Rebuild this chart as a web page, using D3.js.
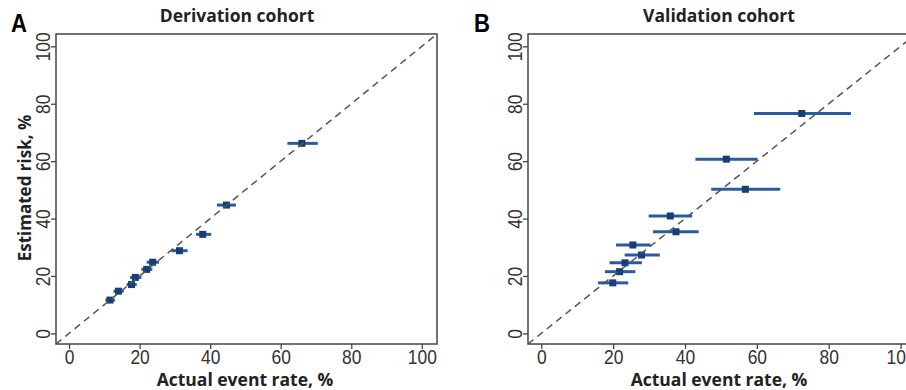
<!DOCTYPE html>
<html>
<head>
<meta charset="utf-8">
<script src="https://cdn.jsdelivr.net/npm/d3@7"></script>
<style>
  body { margin: 0; background: #fff; }
  svg { display: block; }
</style>
</head>
<body>
<div id="chart-container"></div>
<script>
// derivation cohort: actual event rate (x), CI, estimated risk (y)
const derivActual = [11.6, 14.0, 17.7, 18.8, 22.0, 23.7, 31.3, 37.9, 44.6, 66.0];
const derivLow    = [10.3, 12.6, 16.3, 17.3, 20.5, 22.0, 29.0, 36.0, 41.9, 61.9];
const derivHigh   = [13.0, 15.5, 19.2, 20.5, 23.6, 25.5, 33.6, 40.3, 47.3, 70.5];
const derivEst    = [11.6, 14.7, 17.0, 19.5, 22.3, 24.8, 28.8, 34.5, 44.7, 66.2];

// validation cohort
const validActual = [19.9, 21.8, 23.3, 27.9, 25.5, 37.5, 35.9, 56.8, 51.5, 72.5];
const validLow    = [15.8, 17.7, 19.0, 23.2, 20.8, 31.1, 29.9, 47.3, 42.9, 59.2];
const validHigh   = [24.2, 26.2, 28.0, 33.0, 30.4, 43.8, 42.0, 66.5, 60.2, 86.2];
const validEst    = [17.6, 21.5, 24.6, 27.3, 30.8, 35.4, 40.9, 50.2, 60.7, 76.6];

const tickValues = [0, 20, 40, 60, 80, 100];
const axisDomain = [-3.7, 104.3];

const svg = d3.select("#chart-container")
  .append("svg")
  .attr("width", 906)
  .attr("height", 390);

const tickFont = "Liberation Sans, Arial, sans-serif";

function drawPanel(cfg) {
  const data = cfg.actual.map((a, i) => ({ x: a, lo: cfg.low[i], hi: cfg.high[i], y: cfg.est[i] }));

  const x = d3.scaleLinear().domain(axisDomain).range([cfg.left, cfg.right]);
  const y = d3.scaleLinear().domain(axisDomain).range([344, 34]);

  const g = svg.append("g");

  // x axis
  const xAx = g.append("g")
    .attr("transform", "translate(0,344)")
    .call(d3.axisBottom(x).tickValues(tickValues).tickSize(5).tickPadding(1));
  xAx.select(".domain").remove();
  xAx.selectAll("line").attr("stroke", "#444").attr("stroke-width", 1.3);
  xAx.selectAll("text")
    .attr("fill", "#333")
    .attr("transform", "scale(0.87,1)")
    .style("font-family", tickFont)
    .style("font-size", "20px");

  // y axis, labels turned like Stata
  const yAx = g.append("g")
    .attr("transform", `translate(${cfg.left},0)`)
    .call(d3.axisLeft(y).tickValues(tickValues).tickSize(5).tickFormat(""));
  yAx.select(".domain").remove();
  yAx.selectAll("line").attr("stroke", "#444").attr("stroke-width", 1.3);
  yAx.selectAll(".tick").append("text")
    .attr("transform", "translate(-6,0) rotate(-90) scale(0.87,1)")
    .attr("text-anchor", "middle")
    .attr("fill", "#333")
    .style("font-family", tickFont)
    .style("font-size", "20px")
    .text(d => d);

  // error bars
  g.selectAll(".ci")
    .data(data)
    .enter()
    .append("line")
    .attr("x1", d => x(d.lo))
    .attr("x2", d => x(d.hi))
    .attr("y1", d => y(d.y))
    .attr("y2", d => y(d.y))
    .attr("stroke", "#2a5b9c")
    .attr("stroke-width", 3);

  g.selectAll(".pt")
    .data(data)
    .enter()
    .append("rect")
    .attr("x", d => x(d.x) - 3.5)
    .attr("y", d => y(d.y) - 3.5)
    .attr("width", 7)
    .attr("height", 7)
    .attr("fill", "#163f78");

  // reference line
  g.append("line")
    .attr("x1", x(axisDomain[0]))
    .attr("y1", y(axisDomain[0]))
    .attr("x2", x(axisDomain[1]))
    .attr("y2", y(axisDomain[1]))
    .attr("stroke", "#555")
    .attr("stroke-width", 1.5)
    .attr("stroke-dasharray", "7,5");

  // frame
  g.append("rect")
    .attr("x", cfg.left)
    .attr("y", 34)
    .attr("width", cfg.right - cfg.left)
    .attr("height", 310)
    .attr("fill", "none")
    .attr("stroke", "#444")
    .attr("stroke-width", 1.5);

  // titles
  g.append("text")
    .attr("x", cfg.titleX)
    .attr("y", 22)
    .attr("text-anchor", "middle")
    .style("font-family", "Open Sans, sans-serif")
    .style("font-weight", "bold")
    .style("font-size", "17.5px")
    .attr("fill", "#222")
    .text(cfg.title);

  g.append("text")
    .attr("transform", `translate(${cfg.letterX},32) scale(0.85,1)`)
    .style("font-family", tickFont)
    .style("font-weight", "bold")
    .style("font-size", "26px")
    .attr("fill", "#000")
    .text(cfg.letter);

  g.append("text")
    .attr("x", cfg.xLabelX)
    .attr("y", 386)
    .attr("text-anchor", "middle")
    .style("font-family", "Open Sans, sans-serif")
    .style("font-weight", "bold")
    .style("font-size", "17.5px")
    .attr("fill", "#222")
    .text("Actual event rate, %");

  if (cfg.yLabel) {
    g.append("text")
      .attr("transform", "translate(31,188) rotate(-90)")
      .attr("text-anchor", "middle")
      .style("font-family", "Open Sans, sans-serif")
      .style("font-weight", "bold")
      .style("font-size", "17px")
      .attr("fill", "#222")
      .text(cfg.yLabel);
  }
}

drawPanel({
  actual: derivActual, low: derivLow, high: derivHigh, est: derivEst,
  left: 56, right: 437,
  title: "Derivation cohort", titleX: 237,
  letter: "A", letterX: 11,
  xLabelX: 245,
  yLabel: "Estimated risk, %"
});

drawPanel({
  actual: validActual, low: validLow, high: validHigh, est: validEst,
  left: 528, right: 916,
  title: "Validation cohort", titleX: 719,
  letter: "B", letterX: 474,
  xLabelX: 719,
  yLabel: null
});
</script>
</body>
</html>
